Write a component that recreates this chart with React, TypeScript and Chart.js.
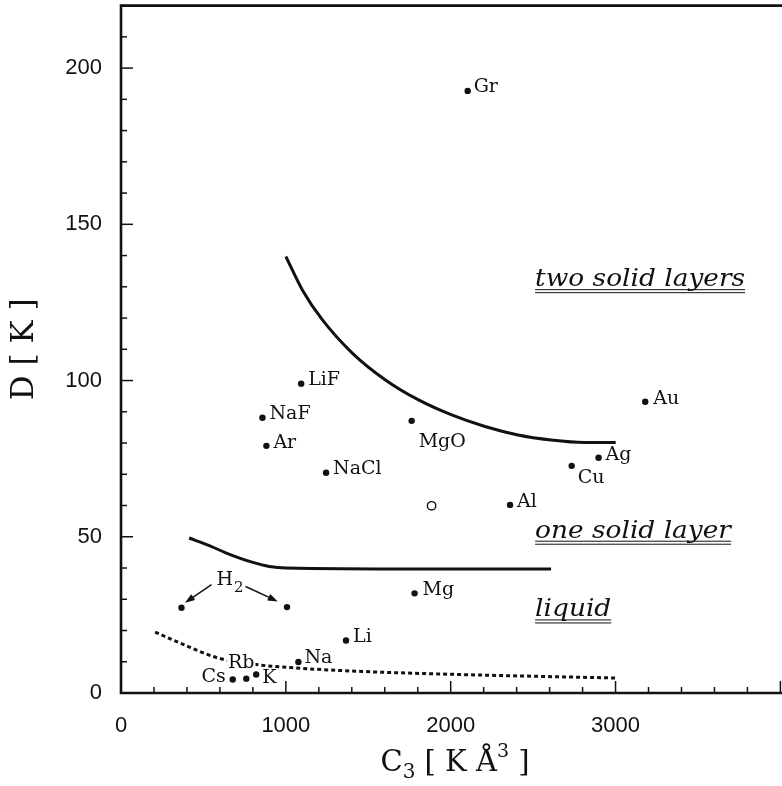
import React, { useEffect, useRef } from "react";
import { Chart, registerables } from "chart.js";
Chart.register(...registerables);

// ---- data ----
const elementNames = ["Gr", "LiF", "NaF", "Ar", "NaCl", "MgO", "Au", "Ag", "Cu", "Al", "Mg", "Li", "Na", "K", "Rb", "Cs"];
const elementC3 = [2103, 1093, 858, 882, 1244, 1763, 3180, 2897, 2734, 2360, 1781, 1365, 1076, 820, 760, 678];
const elementD = [192.7, 99.0, 88.1, 79.1, 70.5, 87.1, 93.2, 75.3, 72.7, 60.2, 31.9, 16.8, 9.9, 5.9, 4.6, 4.3];

const openC3 = [1884];
const openD = [59.9];

const h2Name = "H";
const h2Sub = "2";
const h2C3 = [367, 1007];
const h2D = [27.3, 27.5];
const h2LabelC3 = 579;
const h2LabelD = 34.7;
const h2ArrowFromC3 = [549, 756];
const h2ArrowFromD = [34.7, 34.1];
const h2ArrowToC3 = [388, 951];
const h2ArrowToD = [28.9, 29.3];

const twoLayerC3 = [1000, 1100, 1222, 1403, 1604, 1805, 2006, 2208, 2408, 2609, 2811, 3001];
const twoLayerD = [139.7, 129.0, 119.4, 108.8, 100.2, 93.8, 89.0, 85.3, 82.6, 81.0, 80.2, 80.2];

const oneLayerC3 = [413, 539, 639, 800, 900, 1001, 1800, 2609];
const oneLayerD = [49.6, 47.1, 44.8, 41.8, 40.5, 40.0, 39.7, 39.7];

const liquidC3 = [207, 358, 589, 820, 1062, 1463, 2067, 3001];
const liquidD = [19.5, 16.0, 11.2, 9.1, 8.0, 6.9, 5.9, 4.8];

const regionNames = ["two solid layers", "one solid layer", "liquid"];
const regionC3 = [2512, 2512, 2512];
const regionD = [130.2, 49.7, 24.5];

const xTickLabels = [0, 1000, 2000, 3000];
const yTickLabels = [0, 50, 100, 150, 200];

// ---- styling ----
const INK = "#111";
const SERIF = '"DejaVu Serif", "Liberation Serif", serif';
const SANS = '"Liberation Sans", Arial, sans-serif';

// label placement relative to each dot: [dx, dy (baseline), align, white backing]
const labelPlace: Record<string, [number, number, CanvasTextAlign, boolean?]> = {
  Gr: [6, 1, "left"],
  LiF: [7, 1, "left"],
  NaF: [7, 1, "left"],
  Ar: [7, 2, "left"],
  NaCl: [7, 1, "left"],
  MgO: [7, 26, "left"],
  Au: [8, 2, "left"],
  Ag: [7, 2, "left"],
  Cu: [6, 17, "left"],
  Al: [7, 2, "left"],
  Mg: [8, 2, "left"],
  Li: [7, 1, "left"],
  Na: [6, 1, "left"],
  K: [6, 8, "left"],
  Rb: [-5, -11, "center", true],
  Cs: [-7, 2, "right"],
};

const toXY = (xs: number[], ys: number[]) => xs.map((v, i) => ({ x: v, y: ys[i] }));

const noPad = (s: any) => {
  s.paddingTop = 0;
  s.paddingBottom = 0;
  s.paddingLeft = 0;
  s.paddingRight = 0;
};

const annotate = {
  id: "annotate",
  afterDraw(chart: any) {
    const { ctx, chartArea: ca, scales } = chart;
    const sx = scales.x;
    const sy = scales.y;
    ctx.save();
    ctx.strokeStyle = INK;
    ctx.fillStyle = INK;

    // frame: left, bottom, top
    ctx.lineWidth = 2.6;
    ctx.beginPath();
    ctx.moveTo(ca.right + 4, ca.top);
    ctx.lineTo(ca.left, ca.top);
    ctx.lineTo(ca.left, ca.bottom);
    ctx.lineTo(ca.right + 4, ca.bottom);
    ctx.stroke();

    // inward tick marks
    ctx.lineWidth = 1.5;
    sy.ticks.forEach((t: any) => {
      const p = sy.getPixelForValue(t.value);
      const len = t.value % 50 === 0 ? 12 : 6;
      ctx.beginPath();
      ctx.moveTo(ca.left, p);
      ctx.lineTo(ca.left + len, p);
      ctx.stroke();
    });
    sx.ticks.forEach((t: any) => {
      const p = sx.getPixelForValue(t.value);
      const len = t.value % 1000 === 0 ? 12 : 6;
      ctx.beginPath();
      ctx.moveTo(p, ca.bottom);
      ctx.lineTo(p, ca.bottom - len);
      ctx.stroke();
    });

    // element labels
    const meta = chart.getDatasetMeta(0);
    ctx.font = `19px ${SERIF}`;
    ctx.textBaseline = "alphabetic";
    meta.data.forEach((el: any, i: number) => {
      const name = elementNames[i];
      const [dx, dy, al, back] = labelPlace[name] || [6, 1, "left"];
      ctx.textAlign = al;
      const tx = el.x + dx;
      const ty = el.y + dy;
      if (back) {
        const w = ctx.measureText(name).width;
        const left = al === "center" ? tx - w / 2 : al === "right" ? tx - w : tx;
        ctx.fillStyle = "#fff";
        ctx.fillRect(left - 1, ty - 15, w + 2, 17);
        ctx.fillStyle = INK;
      }
      ctx.fillText(name, tx, ty);
    });

    // H2 label with arrows
    const hx = sx.getPixelForValue(h2LabelC3);
    const hy = sy.getPixelForValue(h2LabelD);
    ctx.textAlign = "left";
    ctx.font = `19px ${SERIF}`;
    ctx.fillText(h2Name, hx, hy);
    const hw = ctx.measureText(h2Name).width;
    ctx.font = `15px ${SERIF}`;
    ctx.fillText(h2Sub, hx + hw + 1, hy + 7);
    ctx.lineWidth = 1.5;
    for (let i = 0; i < h2ArrowFromC3.length; i++) {
      const x1 = sx.getPixelForValue(h2ArrowFromC3[i]);
      const y1 = sy.getPixelForValue(h2ArrowFromD[i]);
      const x2 = sx.getPixelForValue(h2ArrowToC3[i]);
      const y2 = sy.getPixelForValue(h2ArrowToD[i]);
      const a = Math.atan2(y2 - y1, x2 - x1);
      ctx.beginPath();
      ctx.moveTo(x1, y1);
      ctx.lineTo(x2 - 6 * Math.cos(a), y2 - 6 * Math.sin(a));
      ctx.stroke();
      ctx.beginPath();
      ctx.moveTo(x2, y2);
      ctx.lineTo(x2 - 10 * Math.cos(a) + 3.5 * Math.sin(a), y2 - 10 * Math.sin(a) - 3.5 * Math.cos(a));
      ctx.lineTo(x2 - 10 * Math.cos(a) - 3.5 * Math.sin(a), y2 - 10 * Math.sin(a) + 3.5 * Math.cos(a));
      ctx.closePath();
      ctx.fill();
    }

    // region labels, italic with double underline (stretched to the reference's width)
    ctx.font = `italic 24px ${SERIF}`;
    ctx.textAlign = "left";
    const stretch = 210 / ctx.measureText(regionNames[0]).width;
    regionNames.forEach((t, i) => {
      const px = sx.getPixelForValue(regionC3[i]);
      const py = sy.getPixelForValue(regionD[i]);
      const w = ctx.measureText(t).width * stretch;
      ctx.save();
      ctx.translate(px, py);
      ctx.scale(stretch, 1);
      ctx.fillText(t, 0, 0);
      ctx.restore();
      ctx.lineWidth = 1;
      [3.5, 6.5].forEach((o) => {
        ctx.beginPath();
        ctx.moveTo(px, py + o);
        ctx.lineTo(px + w, py + o);
        ctx.stroke();
      });
    });

    // x axis title: C3 [ K Å3 ]
    const parts: [string, number, number][] = [
      ["C", 29, 0],
      ["3", 20, 7],
      [" [ K Å", 29, 0],
      ["3", 19, -14],
      [" ]", 29, 0],
    ];
    let total = 0;
    parts.forEach(([t, s]) => {
      ctx.font = `${s}px ${SERIF}`;
      total += ctx.measureText(t).width;
    });
    let cx = 455 - total / 2;
    const base = ca.bottom + 78;
    ctx.textAlign = "left";
    parts.forEach(([t, s, dy]) => {
      ctx.font = `${s}px ${SERIF}`;
      ctx.fillText(t, cx, base + dy);
      cx += ctx.measureText(t).width;
    });

    // y axis title
    ctx.translate(ca.left - 88, (ca.top + ca.bottom) / 2);
    ctx.rotate(-Math.PI / 2);
    ctx.font = `31px ${SERIF}`;
    ctx.textAlign = "center";
    ctx.fillText("D [ K ]", 0, 0);
    ctx.restore();
  },
};

export default function App() {
  const ref = useRef<HTMLCanvasElement>(null);
  useEffect(() => {
    const chart = new Chart(ref.current as HTMLCanvasElement, {
      type: "scatter",
      data: {
        datasets: [
          {
            label: "elements",
            data: toXY(elementC3, elementD),
            pointRadius: 3.2,
            pointBackgroundColor: INK,
            pointBorderWidth: 0,
          },
          {
            label: "open",
            data: toXY(openC3, openD),
            pointRadius: 4.2,
            pointBackgroundColor: "#fff",
            pointBorderColor: INK,
            pointBorderWidth: 1.4,
          },
          {
            label: "H2",
            data: toXY(h2C3, h2D),
            pointRadius: 3.2,
            pointBackgroundColor: INK,
            pointBorderWidth: 0,
          },
          {
            label: "two/one boundary",
            data: toXY(twoLayerC3, twoLayerD),
            showLine: true,
            borderColor: INK,
            borderWidth: 3,
            pointRadius: 0,
            cubicInterpolationMode: "monotone",
          },
          {
            label: "one/liquid boundary",
            data: toXY(oneLayerC3, oneLayerD),
            showLine: true,
            borderColor: INK,
            borderWidth: 3,
            pointRadius: 0,
            cubicInterpolationMode: "monotone",
          },
          {
            label: "liquid boundary",
            data: toXY(liquidC3, liquidD),
            showLine: true,
            borderColor: INK,
            borderWidth: 3,
            borderDash: [4, 3],
            pointRadius: 0,
            cubicInterpolationMode: "monotone",
          },
        ],
      },
      options: {
        animation: false,
        responsive: false,
        devicePixelRatio: 1,
        layout: { padding: { left: 0, right: 2, top: 5.5, bottom: 0 } },
        plugins: { legend: { display: false }, tooltip: { enabled: false } },
        scales: {
          x: {
            type: "linear",
            min: 0,
            max: 4000,
            grid: { display: false, drawTicks: false },
            border: { display: false },
            ticks: {
              stepSize: 200,
              autoSkip: false,
              maxRotation: 0,
              padding: 20,
              color: INK,
              font: { family: SANS, size: 22 },
              callback: (v: any) => (xTickLabels.includes(Number(v)) ? String(v) : ""),
            },
            afterFit: (s: any) => {
              s.height = 93;
              noPad(s);
            },
          },
          y: {
            type: "linear",
            min: 0,
            max: 220,
            grid: { display: false, drawTicks: false },
            border: { display: false },
            ticks: {
              stepSize: 10,
              autoSkip: false,
              padding: 19,
              color: INK,
              font: { family: SANS, size: 22 },
              callback: (v: any) => (yTickLabels.includes(Number(v)) ? String(v) : ""),
            },
            afterFit: (s: any) => {
              s.width = 121;
              noPad(s);
            },
          },
        },
      } as any,
      plugins: [annotate],
    });
    return () => chart.destroy();
  }, []);
  return (
    <div style={{ position: "absolute", left: 0, top: 0, width: 782, height: 786, overflow: "hidden", background: "#fff" }}>
      <canvas ref={ref} width={786} height={786} style={{ display: "block" }} />
    </div>
  );
}
